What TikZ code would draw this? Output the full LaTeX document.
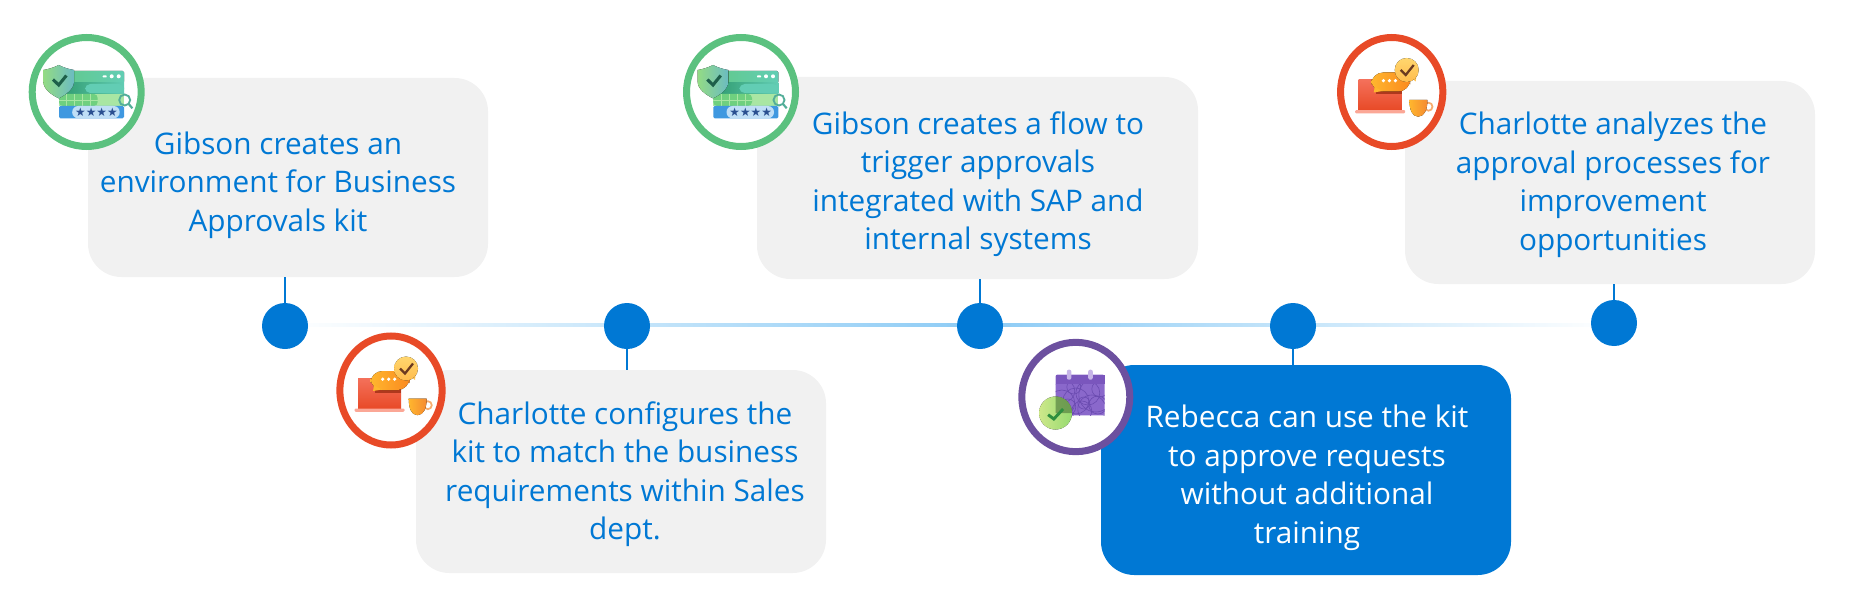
\documentclass[tikz,border=0pt]{standalone}
\usepackage{fontspec}
\setmainfont{Open Sans}
\newfontfamily\glyphfont{DejaVu Sans}
\usetikzlibrary{backgrounds,shapes.geometric}
\definecolor{kit-blue}{HTML}{0078D4}
\definecolor{kit-grey}{HTML}{F1F1F1}
\definecolor{kit-line}{HTML}{8CCBF5}
\definecolor{ring-green}{HTML}{5BC17F}
\definecolor{ring-red}{HTML}{E84A27}
\definecolor{ring-purple}{HTML}{6C509F}
\definecolor{env-top}{HTML}{62C98A}
\definecolor{env-teal}{HTML}{62CDB4}
\definecolor{env-dark}{HTML}{2F9A6E}
\definecolor{env-pale}{HTML}{A9E6A3}
\definecolor{env-grid}{HTML}{6FD07F}
\definecolor{env-blue}{HTML}{3F98E0}
\definecolor{env-pill}{HTML}{BFDEF6}
\definecolor{env-star}{HTML}{2A4F90}
\definecolor{env-leaf}{HTML}{93DB84}
\definecolor{env-sky}{HTML}{6BBBC2}
\definecolor{env-tick}{HTML}{1E5F4A}
\definecolor{chat-top}{HTML}{F4705A}
\definecolor{chat-base}{HTML}{FBA796}
\definecolor{chat-amber}{HTML}{FFB62E}
\definecolor{chat-orange}{HTML}{FB8A1F}
\definecolor{chat-pale}{HTML}{FFD66E}
\definecolor{chat-brown}{HTML}{6B3A20}
\definecolor{chat-cup}{HTML}{F58A30}
\definecolor{cal-body}{HTML}{8A68CB}
\definecolor{cal-head}{HTML}{7A56BD}
\definecolor{cal-peg}{HTML}{C6B4E7}
\definecolor{cal-line}{HTML}{6A4BB0}
\definecolor{cal-lime}{HTML}{CDE88A}
\definecolor{cal-leaf}{HTML}{96DA70}
\definecolor{cal-tick}{HTML}{2F8F3F}
\tikzset{
    step-box/.style = {fill=kit-grey, rectangle, rounded corners=25pt, inner sep=0pt},
    step-box-blue/.style = {step-box, fill=kit-blue},
    step-text/.style = {text=kit-blue, align=center, inner sep=0pt, font=\fontsize{22.3}{28.9}\selectfont},
    step-text-white/.style = {step-text, text=white},
    step-dot/.style = {fill=kit-blue, circle, minimum size=34.5pt, inner sep=0pt},
    step-ring/.style n args = {3}{draw=#1, fill=white, ellipse, line width=5.25pt, minimum width=#2, minimum height=#3, inner sep=0pt},
    step-stem/.style = {draw=kit-blue, line width=1.1pt},
    env-icon/.pic = {
        \fill[rounded corners=1pt, left color=env-top, right color=env-teal] (-27.7,-21) rectangle (37.3,-9);
        \fill[left color=env-dark, right color=env-teal] (-27.7,-9) rectangle (37.3,2);
        \fill[rounded corners=4pt, fill=env-teal] (-1.7,-8) rectangle (37.3,1);
        \fill[fill=env-pale] (-27.7,2) rectangle (37.3,14);
        \fill[rounded corners=3pt, fill=env-grid] (-27.7,2) rectangle (11,14);
        \foreach \gridx in {-20,-12,-4,4} {
            \draw[env-pale, line width=.4pt] (\gridx,2) -- (\gridx,14);
        }
        \draw[env-pale, line width=.4pt] (-27.7,8) -- (11,8);
        \fill[rounded corners=1pt, fill=env-blue] (-27.7,14) rectangle (37.3,26.3);
        \fill[rounded corners=4.5pt, fill=env-pill] (-14.5,14) rectangle (33,26.3);
        \node[text=env-star, inner sep=0pt, font=\glyphfont\fontsize{8.9}{9}\selectfont] (-stars) at (9.7,20.5) {★★★★};
        \fill[white] (25,-15.7) circle (2);
        \fill[white] (32,-15.7) circle (2);
        \fill[white, rounded corners=.5pt] (16,-16.5) rectangle (20,-14.5);
        \draw[env-teal!85!black, line width=1.4pt] (38,8) circle (5.5);
        \draw[env-teal!85!black, line width=1.6pt] (42,12) -- (45.7,16.3);
        \fill[left color=env-leaf, right color=env-sky] (-28,-27) .. controls (-22,-24) and (-18,-23) .. (-12.7,-22) -- (-12.7,-10) .. controls (-13,-3) and (-21,3) .. (-28,6.3) .. controls (-35,3) and (-43.3,-3) .. (-43.3,-10) -- (-43.3,-22) .. controls (-38,-23) and (-34,-24) .. (-28,-27) -- cycle;
        \draw[env-tick, line width=2.3pt] (-33.7,-12.5) -- (-28,-7) -- (-20.3,-16.5);
    },
    chat-icon/.pic = {
        \fill[bottom color=ring-red, top color=chat-top] (-33,-12) rectangle (10,18);
        \fill[rounded corners=.8pt, fill=chat-base] (-36.5,18) rectangle (13.5,21.3);
        \fill[ring-red!75!black] (-16,-2) rectangle (10,2);
        \fill[rounded corners=9pt, left color=chat-amber, right color=chat-orange] (-20.5,-19.5) rectangle (18.5,-0.5);
        \fill[chat-amber] (-17,-5) -- (-18,0.5) -- (-9,-1) -- cycle;
        \foreach \dotx in {-8.3,-2.3,3.7} {
            \fill[white] (\dotx,-11.3) circle (1.8);
        }
        \fill[chat-pale!80!orange] (16,-17) -- (24,-10.5) -- (25,-20) -- cycle;
        \fill[top color=chat-pale, bottom color=chat-pale!70!orange] (15,-22) circle (12);
        \draw[chat-brown, line width=1.7pt] (9,-22) -- (14,-17) -- (22,-27);
        \draw[chat-cup!70!white, line width=1.3pt] (36.8,14.7) circle (4);
        \fill[left color=chat-amber, right color=chat-cup] (17.7,8) -- (35.7,8) .. controls (35.7,17) and (33,24.7) .. (26.5,24.7) .. controls (20,24.7) and (17.7,17) .. (17.7,8) -- cycle;
    },
    cal-icon/.pic = {
        \fill[rounded corners=1pt, fill=cal-body] (-20.3,-22.3) rectangle (28.7,18.3);
        \begin{scope}
            \clip (-20.3,-13) rectangle (28.7,18.3);
            \foreach \loopx/\loopy/\loopr in {-12/-6/11,0/4/13,12/-4/12,22/8/9,6/14/10,-8/10/8,16/12/14,-2/-10/7,24/-8/8,8/6/6,-14/6/13,20/-2/17} {
                \draw[cal-line, line width=.45pt] (\loopx,\loopy) circle (\loopr);
            }
        \end{scope}
        \fill[cal-head] (-20.3,-22.3) rectangle (28.7,-13.5);
        \fill[rounded corners=1.5pt, fill=cal-peg] (-9,-27.3) rectangle (-4.4,-17.3);
        \fill[rounded corners=1.5pt, fill=cal-peg] (12.4,-27.3) rectangle (17,-17.3);
        \fill[left color=cal-lime, right color=cal-leaf] (-20.3,16) circle (16.5);
        \fill[black!40!cal-leaf, opacity=.7] (-20.3,-0.5) arc (-90:0:16.5) -- (-20.3,16) -- cycle;
        \draw[cal-tick, line width=2.2pt] (-27.7,17.7) -- (-22,22) -- (-12.7,12);
    },
}
\begin{document}
\begin{tikzpicture}[x=0.75pt,y=-0.75pt]
\useasboundingbox (0,0) rectangle (1849,610);
\node[step-box, minimum width=300pt, minimum height=149.25pt] (box-a) at (288,177.5) {};
\node[step-box, minimum width=307.5pt, minimum height=152.25pt] (box-b) at (621,471.5) {};
\node[step-box, minimum width=330.75pt, minimum height=151.5pt] (box-c) at (977.5,178) {};
\node[step-box-blue, minimum width=307.5pt, minimum height=157.5pt] (box-d) at (1306,470) {};
\node[step-box, minimum width=307.5pt, minimum height=152.25pt] (box-e) at (1610,182.5) {};
\node[step-text] (text-a) at (278,185) {Gibson creates an\\environment for Business\\Approvals kit};
\node[step-text] (text-b) at (625,474) {Charlotte configures the\\kit to match the business\\requirements within Sales\\dept.};
\node[step-text] (text-c) at (978,184) {Gibson creates a flow to\\trigger approvals\\integrated with SAP and\\internal systems};
\node[step-text-white] (text-d) at (1307,478) {Rebecca can use the kit\\to approve requests\\without additional\\training};
\node[step-text] (text-e) at (1613,185) {Charlotte analyzes the\\approval processes for\\improvement\\opportunities};
\node[step-dot] (dot-a) at (285,326) {};
\node[step-dot] (dot-b) at (627,326) {};
\node[step-dot] (dot-c) at (980,326) {};
\node[step-dot] (dot-d) at (1293,326) {};
\node[step-dot] (dot-e) at (1614,323) {};
\begin{scope}[on background layer]
\shade[left color=white, right color=kit-line] ([yshift=-0.375pt]dot-a.center) rectangle ([yshift=1.875pt]dot-c.center);
\shade[left color=kit-line, right color=white] ([yshift=-0.375pt]dot-c.center |- dot-a.center) rectangle ([yshift=-0.375pt]dot-e.center);
\end{scope}
\draw[step-stem] (box-a.south -| dot-a) -- (dot-a);
\draw[step-stem] (dot-b) -- (box-b.north -| dot-b);
\draw[step-stem] (box-c.south -| dot-c) -- (dot-c);
\draw[step-stem] (dot-d) -- (box-d.north -| dot-d);
\draw[step-stem] (box-e.south -| dot-e) -- (dot-e);
\node[step-ring={ring-green}{81.75pt}{81.75pt}] (ring-a) at (86.7,92) {};
\node[step-ring={ring-red}{76.75pt}{81.75pt}] (ring-b) at (391,390.5) {};
\node[step-ring={ring-green}{81.75pt}{81.75pt}] (ring-c) at (741,92) {};
\node[step-ring={ring-purple}{81pt}{82pt}] (ring-d) at (1075.8,397) {};
\node[step-ring={ring-red}{76.75pt}{81.75pt}] (ring-e) at (1391.7,92) {};
\pic (icon-a) at (ring-a) {env-icon};
\pic (icon-b) at (ring-b) {chat-icon};
\pic (icon-c) at (ring-c) {env-icon};
\pic (icon-d) at (ring-d) {cal-icon};
\pic (icon-e) at (ring-e) {chat-icon};
\end{tikzpicture}
\end{document}
